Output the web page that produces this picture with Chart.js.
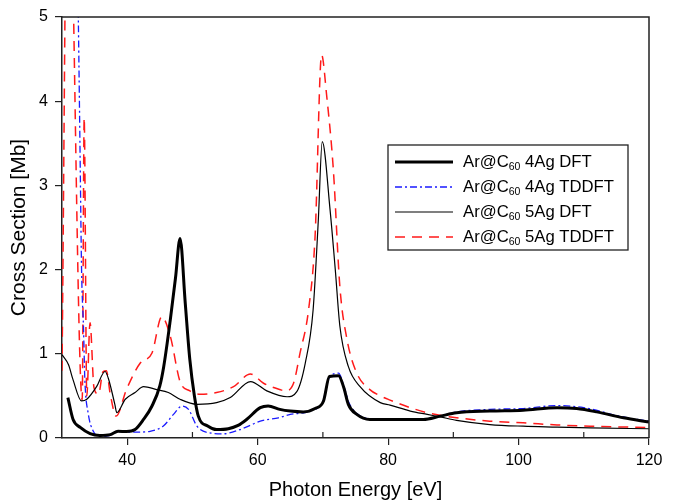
<!DOCTYPE html>
<html lang="en">
<head>
<meta charset="UTF-8">
<title>Ar@C60 photoionization cross section</title>
<script src="https://cdn.jsdelivr.net/npm/chart.js"></script>
<style>
  body { margin: 0; background: #fff; }
  #chart { display: block; }
</style>
</head>
<body>
<canvas id="chart" width="675" height="503"></canvas>
<script>
  // Ar@C60 4Ag DFT (thick black)
  const dft4Energy = [30.9, 31.7, 32.8, 34.3, 35.8, 37.4, 38.6, 39.9, 41.2, 42.5, 43.8, 45.0, 45.6, 46.6, 47.4, 48.1, 48.9, 49.6, 50.3, 50.9, 52.4, 53.7, 55.5, 57, 58.3, 60.4, 61.6, 63.4, 65, 67, 68.8, 70.1, 71, 72.4, 73.2, 73.9, 75.2, 77.2, 80.3, 85.4, 88, 90.5, 95.6, 100.7, 105.9, 108.9, 112, 116.1, 120];
  const dft4Sigma  = [0.48, 0.22, 0.125, 0.053, 0.03, 0.04, 0.08, 0.077, 0.1, 0.22, 0.38, 0.62, 0.85, 1.4, 1.9, 2.37, 1.6, 0.93, 0.5, 0.26, 0.14, 0.1, 0.11, 0.15, 0.22, 0.36, 0.38, 0.34, 0.32, 0.31, 0.35, 0.44, 0.73, 0.74, 0.6, 0.4, 0.28, 0.22, 0.22, 0.22, 0.26, 0.3, 0.32, 0.33, 0.36, 0.35, 0.31, 0.24, 0.19];

  // Ar@C60 4Ag TDDFT (blue dash-dot)
  const tddft4Energy = [32.2, 32.5, 32.8, 33.0, 33.3, 33.5, 34.0, 34.8, 35.8, 37.4, 38.6, 40.0, 41.5, 43.5, 45.5, 47.1, 48.4, 49.4, 50.7, 52.7, 54.7, 57.3, 60.4, 63.2, 65, 68, 70, 71, 72.4, 73.2, 74, 75.2, 77, 80, 85, 88, 90.5, 95.6, 100.7, 105.9, 110, 116, 120];
  const tddft4Sigma  = [6.5, 5.0, 3.2, 2.0, 1.3, 0.7, 0.3, 0.08, 0.02, 0.03, 0.08, 0.07, 0.07, 0.08, 0.14, 0.28, 0.38, 0.34, 0.14, 0.06, 0.05, 0.1, 0.2, 0.24, 0.28, 0.32, 0.44, 0.72, 0.77, 0.62, 0.42, 0.29, 0.23, 0.22, 0.22, 0.26, 0.31, 0.34, 0.35, 0.385, 0.36, 0.25, 0.2];

  // Ar@C60 5Ag DFT (thin black)
  const dft5Energy = [30, 31, 31.7, 33.0, 33.8, 35.3, 36.6, 37.1, 38.1, 38.4, 39.7, 41.2, 42.5, 44.5, 46.3, 48.1, 50.7, 53.7, 55.8, 58.9, 61.4, 64.5, 66, 67.3, 68.5, 69.3, 69.9, 71.1, 71.9, 72.6, 73.9, 75.7, 78.8, 80.3, 83.4, 86, 88, 90.5, 95.6, 100.7, 105.9, 111, 120];
  const dft5Sigma  = [0.99, 0.87, 0.69, 0.44, 0.46, 0.61, 0.79, 0.71, 0.4, 0.3, 0.46, 0.54, 0.61, 0.575, 0.54, 0.46, 0.4, 0.42, 0.48, 0.67, 0.56, 0.49, 0.55, 0.89, 1.52, 2.59, 3.52, 2.71, 2.0, 1.33, 0.85, 0.61, 0.42, 0.39, 0.32, 0.28, 0.25, 0.21, 0.16, 0.14, 0.13, 0.12, 0.11];

  // Ar@C60 5Ag TDDFT (red dashed)
  const tddft5Energy = [30, 30.9, 33.1, 33.4, 33.8, 34.3, 34.9, 35.6, 36.3, 36.8, 37.4, 38.3, 39.9, 42, 43.8, 45.3, 46.6, 48.1, 49.6, 51.2, 53.7, 56.3, 58.9, 60.9, 63.4, 64.2, 65.5, 66.5, 67.8, 68.8, 69.8, 70.6, 71.6, 72.6, 73.7, 75.2, 77.2, 78.8, 80.3, 83.4, 86, 88, 90.5, 95.6, 100.7, 105.9, 111, 120];
  const tddft5Sigma  = [0.8, 7.5, 0.45, 3.8, 0.5, 1.37, 0.6, 0.52, 0.79, 0.8, 0.52, 0.26, 0.58, 0.89, 1.01, 1.44, 1.21, 0.67, 0.56, 0.52, 0.54, 0.61, 0.76, 0.65, 0.575, 0.56, 0.65, 1.01, 1.52, 2.39, 4.55, 4.05, 3.19, 1.8, 1.17, 0.77, 0.575, 0.5, 0.45, 0.36, 0.3, 0.27, 0.24, 0.2, 0.18, 0.155, 0.14, 0.125];

  const labelTicks = [40, 60, 80, 100, 120];
  const minorTicks = [50, 70, 90, 110];
  const legendNames = ['4Ag DFT', '4Ag TDDFT', '5Ag DFT', '5Ag TDDFT'];

  const FONT = '"Liberation Sans", Arial, sans-serif';
  const pts = (xs, ys) => xs.map((x, i) => ({ x, y: ys[i] }));

  // top/right frame and the small inward minor ticks
  const frame = {
    id: 'frame',
    afterDraw(chart) {
      const { ctx, chartArea: a, scales: { x } } = chart;
      ctx.save();
      ctx.strokeStyle = '#222';
      ctx.lineWidth = 1.5;
      ctx.beginPath();
      ctx.moveTo(a.left, a.top);
      ctx.lineTo(a.right, a.top);
      ctx.lineTo(a.right, a.bottom);
      ctx.stroke();
      ctx.lineWidth = 1.2;
      ctx.beginPath();
      minorTicks.forEach(v => {
        const px = x.getPixelForValue(v);
        ctx.moveTo(px, a.bottom);
        ctx.lineTo(px, a.bottom - 6);
      });
      ctx.stroke();
      ctx.restore();
    }
  };

  // boxed legend with subscripted C60
  const boxLegend = {
    id: 'boxLegend',
    afterDatasetsDraw(chart) {
      const ctx = chart.ctx;
      const bx = 388, by = 145, bw = 240, bh = 105;
      ctx.save();
      ctx.fillStyle = '#fff';
      ctx.fillRect(bx, by, bw, bh);
      ctx.strokeStyle = '#222';
      ctx.lineWidth = 1.3;
      ctx.strokeRect(bx, by, bw, bh);
      chart.data.datasets.forEach((ds, i) => {
        const y = by + 17 + i * 25;
        ctx.beginPath();
        ctx.setLineDash(ds.borderDash || []);
        ctx.strokeStyle = ds.borderColor;
        ctx.lineWidth = ds.borderWidth;
        ctx.moveTo(bx + 7, y);
        ctx.lineTo(bx + 65, y);
        ctx.stroke();
        ctx.setLineDash([]);
        ctx.fillStyle = '#000';
        ctx.textBaseline = 'middle';
        let tx = bx + 75;
        ctx.font = '16.7px ' + FONT;
        ctx.fillText('Ar@C', tx, y);
        tx += ctx.measureText('Ar@C').width;
        ctx.font = '10.5px ' + FONT;
        ctx.fillText('60', tx, y + 5);
        tx += ctx.measureText('60').width;
        ctx.font = '16.7px ' + FONT;
        ctx.fillText(' ' + legendNames[i], tx, y);
      });
      ctx.restore();
    }
  };

  new Chart(document.getElementById('chart'), {
    type: 'line',
    data: {
      datasets: [
        { label: legendNames[0], data: pts(dft4Energy, dft4Sigma), borderColor: '#000', borderWidth: 3 },
        { label: legendNames[1], data: pts(tddft4Energy, tddft4Sigma), borderColor: '#1a1aff', borderWidth: 1.3, borderDash: [7, 3, 2, 3] },
        { label: legendNames[2], data: pts(dft5Energy, dft5Sigma), borderColor: '#000', borderWidth: 1.2 },
        { label: legendNames[3], data: pts(tddft5Energy, tddft5Sigma), borderColor: '#ff1a1a', borderWidth: 1.5, borderDash: [10, 7] }
      ]
    },
    options: {
      responsive: false,
      animation: false,
      layout: { padding: { top: 17, right: 26, left: 0, bottom: 0 } },
      elements: {
        point: { radius: 0 },
        line: { cubicInterpolationMode: 'monotone', fill: false }
      },
      plugins: { legend: { display: false }, tooltip: { enabled: false } },
      scales: {
        x: {
          type: 'linear', min: 30, max: 120,
          ticks: {
            stepSize: 10, autoSkip: false, maxRotation: 0, padding: 6, color: '#000',
            font: { family: FONT, size: 16 },
            callback: v => labelTicks.includes(v) ? v : ''
          },
          grid: {
            drawOnChartArea: false, tickLength: 7, lineWidth: 1.2,
            color: c => c.tick && labelTicks.includes(c.tick.value) ? '#222' : 'rgba(0,0,0,0)'
          },
          border: { color: '#222', width: 1.5 },
          title: {
            display: true, text: 'Photon Energy [eV]', color: '#000',
            font: { family: FONT, size: 20 }, padding: { top: 0, bottom: 1 }
          },
          afterFit: s => { s.height = 65; }
        },
        y: {
          min: 0, max: 5,
          ticks: { stepSize: 1, padding: 7, color: '#000', font: { family: FONT, size: 16 } },
          grid: { drawOnChartArea: false, tickLength: 7, lineWidth: 1.2, color: '#222' },
          border: { color: '#222', width: 1.5 },
          title: {
            display: true, text: 'Cross Section [Mb]', color: '#000',
            font: { family: FONT, size: 21 }, padding: { top: 7, bottom: 0 }
          },
          afterFit: s => { s.width = 62; }
        }
      }
    },
    plugins: [frame, boxLegend]
  });
</script>
</body>
</html>
